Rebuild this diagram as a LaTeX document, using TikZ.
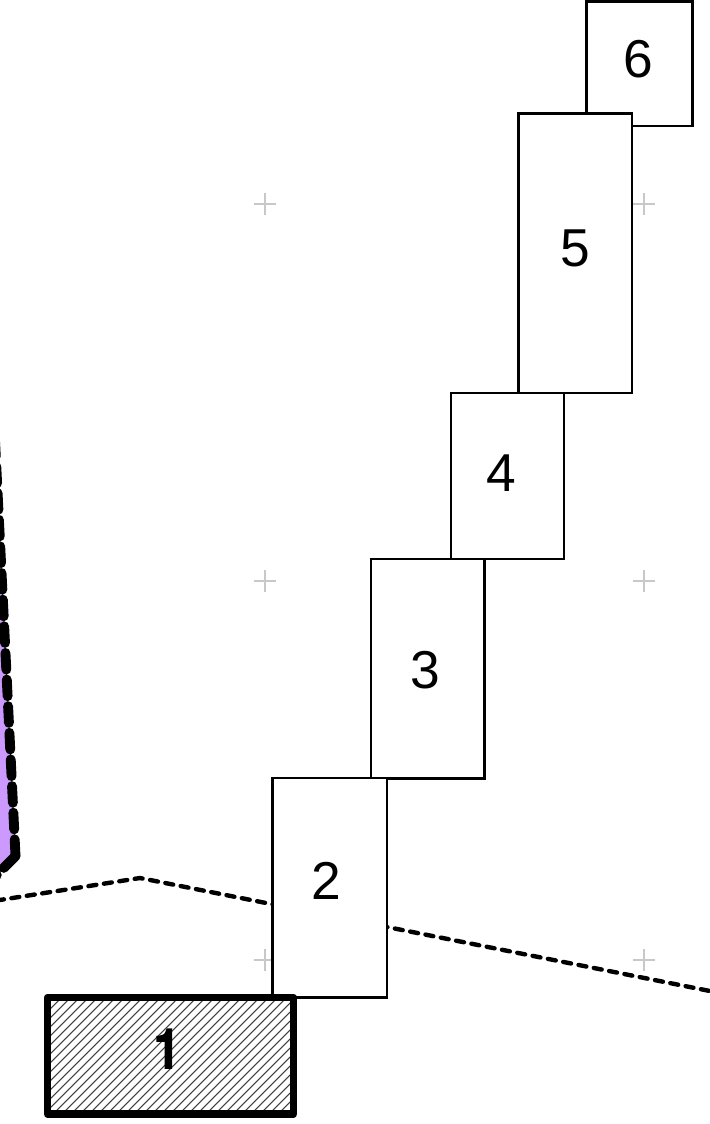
\documentclass[tikz,border=0pt]{standalone}
\usepackage{fontspec}
\setmainfont{Liberation Sans}
\newfontfamily\heavyone[FakeBold=5]{TeX Gyre Heros}
\definecolor{crossgray}{HTML}{C8C8C8}
\definecolor{regionpurple}{HTML}{CC99FF}
\tikzset{
  every node/.style={inner sep=0pt,outer sep=0pt},
  stepbox/.style={draw=black,fill=white,line width=1.8pt,rectangle,line join=miter},
  numtext/.style={font=\fontsize{40}{48}\selectfont,text=black},
  gridcross/.style={draw=crossgray,line width=0.9pt},
  thindash/.style={draw=black,line width=3.3pt,line cap=round,line join=round,dash pattern=on 6pt off 5.7pt},
  thickdash/.style={draw=black,line width=7.4pt,line cap=round,line join=round,dash pattern=on 12.5pt off 7.5pt},
  hatchline/.style={draw=black!75,line width=0.8pt},
  thickbox/.style={draw=black,line width=5.6pt,line join=round,rectangle}
}
\begin{document}
\begin{tikzpicture}[x=0.75pt,y=-0.75pt]
\useasboundingbox (0,0) rectangle (710,1124);
\clip (0,0) rectangle (710,1124);
\fill[white] (0,0) rectangle (710,1124);
% grid crosses
\foreach \cx/\cy in {265/204,644/204,265/581,644/581,265/960,644/960}{
  \draw[gridcross] (\cx-11,\cy) -- (\cx+11,\cy) (\cx,\cy-11) -- (\cx,\cy+11);
}
% purple region
\coordinate (ptop) at (-7,400);
\coordinate (pcorner) at (15.5,856);
\coordinate (pend) at (-12,884);
\fill[regionpurple] (-10,400) -- (ptop) -- (pcorner) -- (pend) -- (-10,884) -- cycle;
\draw[thickdash] (pcorner) -- (ptop);
\draw[thickdash] (pcorner) -- (pend);
% thin dashed line
\coordinate (la) at (-4,900.6);
\coordinate (lb) at (140,878);
\coordinate (lc) at (720,993);
\draw[thindash] (la) -- (lb) -- (lc);
% boxes
\node[stepbox,minimum width=79.4pt,minimum height=93.5pt,anchor=north west] (b6) at (586.5,1.5) {};
\node[stepbox,minimum width=85pt,minimum height=209.5pt,anchor=north west] (b5) at (518.5,113.5) {};
\node[stepbox,minimum width=84.7pt,minimum height=124.5pt,anchor=north west] (b4) at (451.2,393) {};
\node[stepbox,minimum width=85.2pt,minimum height=164.5pt,anchor=north west] (b3) at (371,559) {};
\node[stepbox,minimum width=85.7pt,minimum height=164.5pt,anchor=north west] (b2) at (272.5,778) {};
% box 1 hatching
\begin{scope}
\clip (47.5,997.5) rectangle (293.5,1114);
\fill[white] (47.5,997.5) rectangle (293.5,1114);
\foreach \k in {0,...,40}{
  \draw[hatchline] ({1059+9*\k-1120},1120) -- ({1059+9*\k-990},990);
}
\end{scope}
\node[thickbox,minimum width=184.5pt,minimum height=87.5pt,anchor=north west] (b1) at (47.5,997.5) {};
% numbers
\node[numtext] (t6) at (638.5,59) {6};
\node[numtext] (t5) at (575.5,248) {5};
\node[numtext] (t4) at (501,473.5) {4};
\node[numtext] (t3) at (425,670.5) {3};
\node[numtext] (t2) at (326,881) {2};
\node[numtext,font=\fontsize{40}{48}\heavyone] (t1) at (167,1048.5) {1};
\end{tikzpicture}
\end{document}
